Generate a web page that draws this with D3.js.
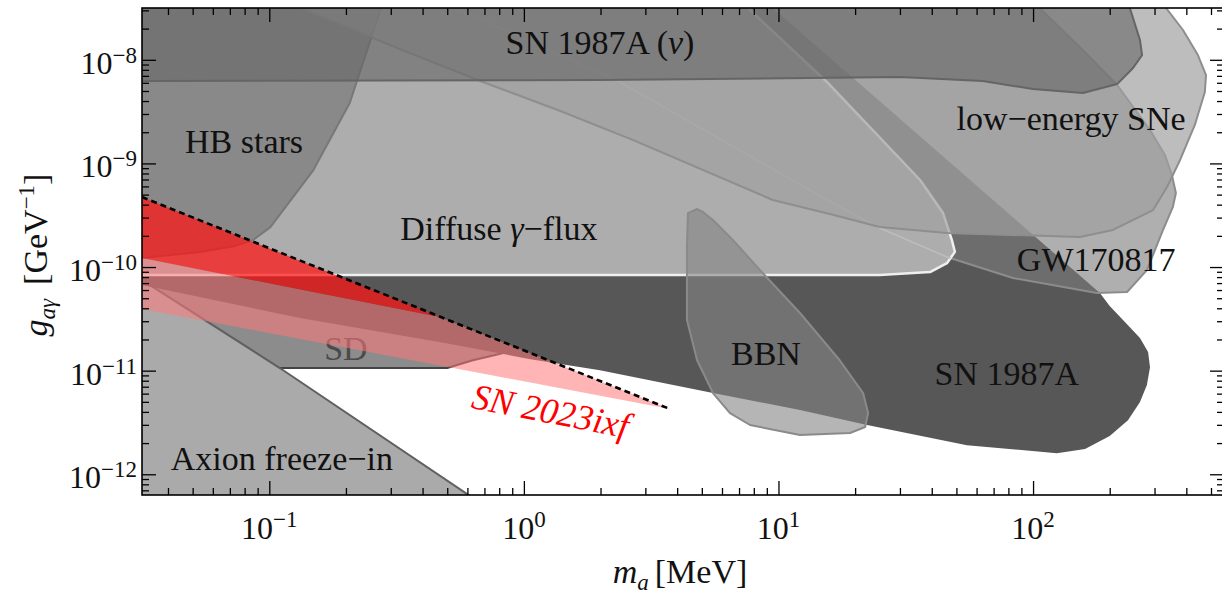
<!DOCTYPE html>
<html>
<head>
<meta charset="utf-8">
<script src="https://cdn.jsdelivr.net/npm/d3@7"></script>
<style>
  html, body { margin: 0; padding: 0; background: #fff; }
</style>
</head>
<body>
<svg id="chart" width="1222" height="594"></svg>
<script>
// Excluded regions, points are [m_a in MeV, g_a_gamma in GeV^-1]
const sn1987aNu = [
  [0.026, 4.7e-8], [236, 4.7e-8], [240, 3.16e-8], [263, 1.55e-8], [268, 1.11e-8],
  [247, 8.34e-9], [214, 5.83e-9], [157, 4.78e-9], [100, 5.22e-9], [63.5, 6.24e-9],
  [30.0, 6.82e-9], [1.99, 6.38e-9], [0.026, 6.24e-9]
];

const hbStars = [
  [0.026, 4.7e-8], [0.282, 4.7e-8], [0.275, 3.16e-8], [0.221, 6.24e-9], [0.207, 3.83e-9],
  [0.149, 8.63e-10], [0.101, 2.43e-10], [0.0863, 1.82e-10], [0.0733, 1.6e-10],
  [0.0535, 1.4e-10], [0.0316, 1.22e-10], [0.026, 1.17e-10]
];

const diffuseFlux = [
  [0.026, 8.38e-11], [25.0, 8.38e-11], [39.4, 8.95e-11], [45.9, 1.09e-10], [49.3, 1.4e-10],
  [48.0, 1.82e-10], [44.3, 3.32e-10], [36.0, 6.92e-10], [15.5, 6.11e-9], [7.73, 3.03e-8],
  [7.59, 4.7e-8], [0.026, 4.7e-8]
];

const sn1987a = [
  [7.87, 4.7e-8], [0.026, 4.7e-8], [0.026, 7.0e-11], [0.0316, 6.7e-11], [0.132, 3.22e-11],
  [0.49, 1.85e-11], [1.06, 1.29e-11], [1.99, 1.01e-11], [5.53, 6.08e-12], [12.15, 4.17e-12],
  [22.3, 2.99e-12], [55, 1.91e-12], [124, 1.6e-12], [160, 1.75e-12], [200, 2.34e-12],
  [236, 3.33e-12], [263, 4.98e-12], [280, 7.26e-12], [288, 1.08e-11], [283, 1.51e-11],
  [263, 2.07e-11], [230, 2.94e-11], [200, 4.2e-11], [183, 5.61e-11], [9.5, 3.16e-8]
];

const lowEnergySNe = [
  [0.0879, 4.7e-8], [0.132, 3.16e-8], [0.326, 1.27e-8], [0.69, 6.11e-9], [1.39, 3.21e-9],
  [2.69, 1.68e-9], [9.5, 4.44e-10], [15.9, 3.25e-10], [25.0, 2.43e-10], [45.9, 2.13e-10],
  [153, 1.95e-10], [206, 2.28e-10], [296, 3.55e-10], [336, 5.92e-10], [378, 1.08e-9],
  [432, 2.35e-9], [473, 4.89e-9], [478, 7.13e-9], [444, 1.11e-8], [388, 1.94e-8], [315, 3.78e-8]
];

const gw170817 = [
  [0.377, 4.7e-8], [1.39, 1.11e-8], [2.38, 6.11e-9], [15.5, 4.44e-10], [25.0, 2.38e-10],
  [45.9, 1.25e-10], [83.4, 7.83e-11], [178, 5.61e-11], [234, 5.74e-11], [280, 9.35e-11],
  [324, 2.28e-10], [354, 3.79e-10], [364, 5.18e-10], [351, 7.73e-10], [330, 1.2e-9],
  [288, 2.1e-9], [214, 5.71e-9], [157, 1.24e-8], [106, 3.16e-8], [90, 4.7e-8]
];

const bbn = [
  [4.79, 3.63e-10], [4.41, 3.32e-10], [4.37, 1.56e-10], [4.37, 3.08e-11], [4.79, 1.26e-11],
  [5.53, 6.08e-12], [6.45, 3.9e-12], [7.73, 2.99e-12], [12.15, 2.39e-12], [19.1, 2.5e-12],
  [21.9, 2.86e-12], [22.5, 3.9e-12], [21.5, 6.08e-12], [17.4, 1.26e-11], [12.15, 3.6e-11],
  [8.46, 9.35e-11], [6.63, 1.82e-10], [5.53, 2.84e-10], [5.05, 3.4e-10]
];

const sdBound = [
  [0.026, 8.38e-11], [1.157, 2.31e-11], [1.157, 1.77e-11], [0.86, 1.51e-11], [0.736, 1.38e-11],
  [0.63, 1.26e-11], [0.50, 1.06e-11], [0.113, 1.06e-11], [0.0535, 1.01e-11], [0.026, 1.01e-11]
];

const freezeIn = [[0.026, 1.02e-10], [0.110, 1.06e-11], [0.805, 3.95e-13], [0.026, 3.95e-13]];

// SN 2023ixf
const ixfStrong = [[0.0316, 4.74e-10], [0.468, 3.29e-11], [0.0316, 1.22e-10]];
const ixfWeak = [[0.0316, 1.22e-10], [0.468, 3.29e-11], [3.75, 4.26e-12], [0.0316, 3.94e-11]];
const ixfLine = [[0.0316, 4.74e-10], [3.75, 4.26e-12]];

const xMajor = [0.1, 1, 10, 100];
const yMajor = [1e-12, 1e-11, 1e-10, 1e-9, 1e-8];

const labels = [
  { parts: [['SN 1987A (', 0], ['ν', 1], [')', 0]], m: 1.99, g: 1.14e-8 },
  { parts: [['HB stars', 0]], m: 0.0796, g: 1.26e-9 },
  { parts: [['low\u2212energy SNe', 0]], m: 141, g: 2.1e-9 },
  { parts: [['Diffuse ', 0], ['γ', 1], ['\u2212flux', 0]], m: 0.798, g: 1.82e-10 },
  { parts: [['GW170817', 0]], m: 177, g: 9.14e-11 },
  { parts: [['BBN', 0]], m: 8.93, g: 1.13e-11 },
  { parts: [['SN 1987A', 0]], m: 78.9, g: 7.26e-12 },
  { parts: [['Axion freeze\u2212in', 0]], m: 0.112, g: 1.1e-12 }
];

const FONT = "'Liberation Serif', 'DejaVu Serif', 'Noto Serif', 'Times New Roman', Times, serif";

const margin = { top: 8, left: 142 };
const WIDTH = 1082, HEIGHT = 487;

const x = d3.scaleLog().domain([10 ** -1.5, 10 ** 2.75]).range([0, WIDTH]);
const y = d3.scaleLog().domain([10 ** -12.2, 10 ** -7.5]).range([HEIGHT, 0]);

const svg = d3.select('#chart').attr('font-family', FONT);
svg.append('rect').attr('width', 1222).attr('height', 594).attr('fill', '#fff');

const outline = d3.line().x(d => x(d[0])).y(d => y(d[1]));

const defs = svg.append('defs');
defs.append('clipPath').attr('id', 'clip')
  .append('rect').attr('width', WIDTH).attr('height', HEIGHT);
defs.append('clipPath').attr('id', 'diffuseClip')
  .append('path').attr('d', outline(diffuseFlux) + 'Z');

const plot = svg.append('g').attr('transform', `translate(${margin.left},${margin.top})`);
const regions = plot.append('g').attr('clip-path', 'url(#clip)');

function drawRegion(data, fill, stroke, strokeWidth) {
  return regions.append('path')
    .datum(data)
    .attr('d', d => outline(d) + 'Z')
    .attr('fill', fill)
    .attr('stroke', stroke || 'none')
    .attr('stroke-width', strokeWidth || 0)
    .attr('stroke-linejoin', 'round');
}

// bottom layers first
drawRegion(sdBound, '#8c8c8c', '#444', 2);
drawRegion(freezeIn, '#aaaaaa', '#606060', 2);
drawRegion(sn1987a, '#575757');
drawRegion(gw170817, 'rgba(125,125,125,0.61)', '#8c8c8c', 2);
drawRegion(diffuseFlux, '#adadad', '#efefef', 2.5);
drawRegion(hbStars, '#898989', '#787878', 2);

// GW170817 edge still shows faintly through the diffuse region
regions.append('g').attr('clip-path', 'url(#diffuseClip)')
  .append('path')
  .attr('d', outline(gw170817) + 'Z')
  .attr('fill', 'none')
  .attr('stroke', '#bdbdbd')
  .attr('stroke-width', 1.5);

drawRegion(lowEnergySNe, 'rgba(159,159,159,0.69)', '#8e8e8e', 2);
drawRegion(sn1987aNu, 'rgba(102,102,102,0.6)', '#656565', 2);
drawRegion(bbn, 'rgba(131,131,131,0.6)', '#8a8a8a', 2);

// SD label sits under the pink band
regions.append('text')
  .attr('x', x(0.2)).attr('y', y(1.26e-11))
  .attr('text-anchor', 'middle').attr('font-size', 34).attr('fill', '#4a4a4a')
  .text('SD');

drawRegion(ixfWeak, 'rgba(255,120,120,0.55)');
drawRegion(ixfStrong, 'rgba(255,20,20,0.72)');

regions.append('path')
  .datum(ixfLine)
  .attr('d', outline)
  .attr('fill', 'none')
  .attr('stroke', '#000')
  .attr('stroke-width', 2.6)
  .attr('stroke-dasharray', '6,4');

// region labels
labels.forEach(l => {
  const t = regions.append('text')
    .attr('x', x(l.m)).attr('y', y(l.g))
    .attr('text-anchor', 'middle').attr('font-size', 34).attr('fill', '#111');
  l.parts.forEach(p => {
    const s = t.append('tspan').text(p[0]);
    if (p[1]) s.attr('font-style', 'italic');
  });
});

regions.append('text')
  .attr('transform', `translate(${x(1.27)},${y(3.98e-12)}) rotate(11)`)
  .attr('y', 11)
  .attr('text-anchor', 'middle').attr('font-size', 36)
  .attr('font-style', 'italic').attr('fill', '#ff0000')
  .text('SN 2023ixf');

// ticks on all four sides, pointing inward
const isMajor = v => Math.abs(Math.log10(v) - Math.round(Math.log10(v))) < 1e-6;
const xMinor = x.ticks().filter(v => !isMajor(v));
const yMinor = y.ticks().filter(v => !isMajor(v));

function tickAxis(axis, transform) {
  const g = plot.append('g').attr('transform', transform).call(axis);
  g.select('.domain').remove();
  g.selectAll('line').attr('stroke', '#000').attr('stroke-width', 1.3);
  g.selectAll('text').remove();
}
[[xMajor, 14], [xMinor, 7]].forEach(([vals, len]) => {
  tickAxis(d3.axisBottom(x).tickValues(vals).tickSize(-len), `translate(0,${HEIGHT})`);
  tickAxis(d3.axisTop(x).tickValues(vals).tickSize(-len), 'translate(0,0)');
});
[[yMajor, 14], [yMinor, 7]].forEach(([vals, len]) => {
  tickAxis(d3.axisLeft(y).tickValues(vals).tickSize(-len), 'translate(0,0)');
  tickAxis(d3.axisRight(y).tickValues(vals).tickSize(-len), `translate(${WIDTH},0)`);
});

plot.append('rect')
  .attr('width', WIDTH).attr('height', HEIGHT)
  .attr('fill', 'none').attr('stroke', '#000').attr('stroke-width', 1.6);

// tick labels as powers of ten
const expText = v => {
  const e = Math.round(Math.log10(v));
  return (e < 0 ? '\u2212' : '') + Math.abs(e);
};

xMajor.forEach(v => {
  const t = svg.append('text')
    .attr('x', margin.left + x(v)).attr('y', 539)
    .attr('text-anchor', 'middle').attr('font-size', 32).attr('fill', '#111');
  t.append('tspan').text('10');
  t.append('tspan').attr('dy', -12).attr('font-size', 23).text(expText(v));
});

yMajor.forEach(v => {
  const t = svg.append('text')
    .attr('x', 137).attr('y', margin.top + y(v) + 14)
    .attr('text-anchor', 'end').attr('font-size', 32).attr('fill', '#111');
  t.append('tspan').text('10');
  t.append('tspan').attr('dy', -11).attr('font-size', 23).text(expText(v));
});

// axis titles
const xTitle = svg.append('text')
  .attr('x', 680).attr('y', 583)
  .attr('text-anchor', 'middle').attr('font-size', 34).attr('fill', '#111');
xTitle.append('tspan').attr('font-style', 'italic').text('m');
xTitle.append('tspan').attr('font-style', 'italic').attr('font-size', 23).attr('dy', 7).text('a');
xTitle.append('tspan').attr('dy', -7).attr('dx', 6).text('[MeV]');

const yTitle = svg.append('text')
  .attr('transform', 'translate(47,255) rotate(-90)')
  .attr('text-anchor', 'middle').attr('font-size', 34).attr('fill', '#111');
yTitle.append('tspan').attr('font-style', 'italic').text('g');
yTitle.append('tspan').attr('font-style', 'italic').attr('font-size', 23).attr('dy', 8).text('aγ');
yTitle.append('tspan').attr('dy', -8).attr('dx', 14).text('[GeV');
yTitle.append('tspan').attr('font-size', 23).attr('dy', -13).text('\u22121');
yTitle.append('tspan').attr('dy', 13).text(']');
</script>
</body>
</html>
